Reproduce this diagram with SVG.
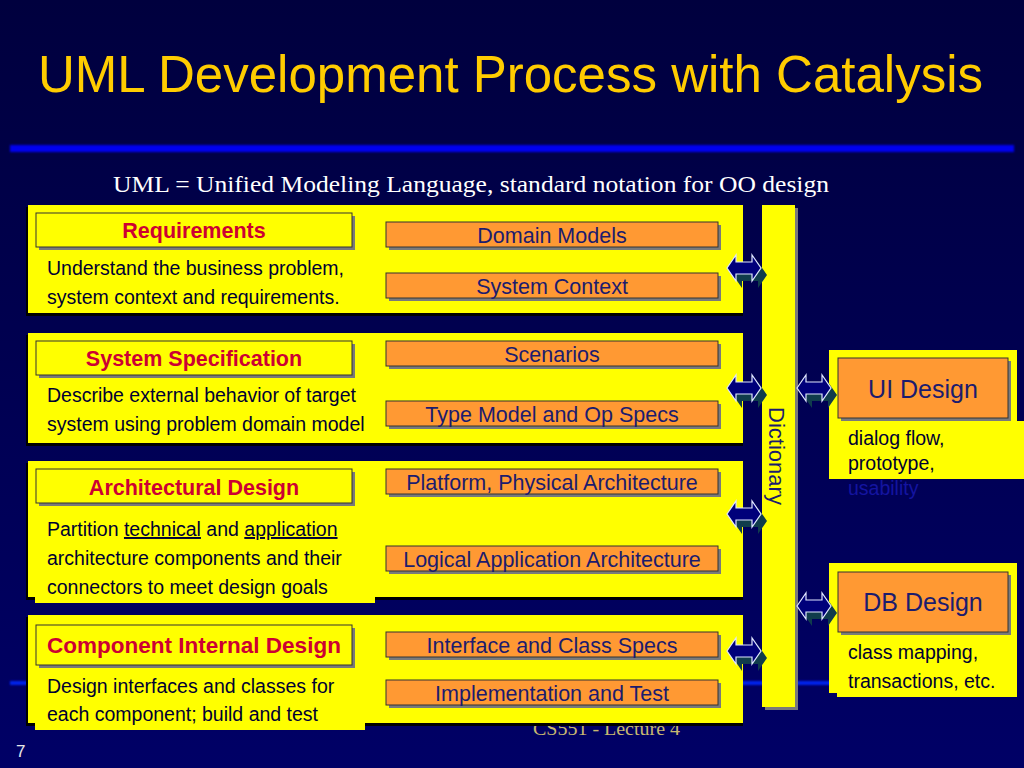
<svg xmlns="http://www.w3.org/2000/svg" xmlns:xlink="http://www.w3.org/1999/xlink" width="1024" height="768" viewBox="0 0 1024 768">
<defs>
<linearGradient id="bg" x1="0" y1="0" x2="0" y2="1">
<stop offset="0" stop-color="#00003e"/>
<stop offset="1" stop-color="#000066"/>
</linearGradient>
<filter id="glow" x="-5%" y="-200%" width="110%" height="500%">
<feGaussianBlur stdDeviation="1.2"/>
</filter>
<g id="dbl">
<path d="M-17,0 L-8,-13 L-8,-6 L8,-6 L8,-13 L17,0 L8,13 L8,6 L-8,6 L-8,13 Z" fill="#103c4c" transform="translate(6,7)"/>
<path d="M-17,0 L-8,-13 L-8,-6 L8,-6 L8,-13 L17,0 L8,13 L8,6 L-8,6 L-8,13 Z" fill="#00007a" stroke="#dfe6ff" stroke-width="1.2" stroke-linejoin="miter"/>
</g>
</defs>
<style>
.stage{fill:#ffff00}
.shad{fill:#000000}
.hbox{fill:#ffff00;stroke:#333333;stroke-width:1}
.obox{fill:#ff9933;stroke:#333333;stroke-width:1}
.gs{fill:#7a7a7a}
.head{font-family:"Liberation Sans",Arial,sans-serif;font-weight:bold;font-size:21.5px;fill:#cc0033;text-anchor:middle}
.desc{font-family:"Liberation Sans",Arial,sans-serif;font-size:19.5px;fill:#000033}
.otxt{font-family:"Liberation Sans",Arial,sans-serif;font-size:21.5px;fill:#1c1c6e;text-anchor:middle}
.big{font-family:"Liberation Sans",Arial,sans-serif;font-size:25px;fill:#1c1c6e;text-anchor:middle}
</style>
<rect x="0" y="0" width="1024" height="768" fill="url(#bg)"/>
<rect x="10" y="145" width="1004" height="7" fill="#0000ee" filter="url(#glow)"/>
<rect x="10" y="681" width="1004" height="4" fill="#0022ee" filter="url(#glow)"/>
<text x="38" y="92" font-family="Liberation Sans,Arial,sans-serif" font-size="52" fill="#ffcc00" textLength="945" lengthAdjust="spacingAndGlyphs">UML Development Process with Catalysis</text>
<text x="113" y="192" font-family="Liberation Serif,Times New Roman,serif" font-size="23" fill="#ffffff" textLength="716" lengthAdjust="spacingAndGlyphs">UML = Unified Modeling Language, standard notation for OO design</text>
<text x="533" y="735" font-family="Liberation Serif,Times New Roman,serif" font-size="19" fill="#c8b870" textLength="147" lengthAdjust="spacingAndGlyphs">CS551 - Lecture 4</text>
<text x="16" y="757" font-family="Liberation Sans,Arial,sans-serif" font-size="17" fill="#e8e8e8">7</text>

<g id="requirements">
<rect class="shad" x="26" y="207" width="717" height="109"/>
<rect class="stage" x="28" y="205" width="715" height="108"/>
<rect class="gs" x="39" y="216" width="316" height="34"/>
<rect class="hbox" x="36" y="213" width="316" height="34"/>
<text class="head" x="194" y="238">Requirements</text>
<text class="desc" x="47" y="275">Understand the business problem,</text>
<text class="desc" x="47" y="304">system context and requirements.</text>
</g>
<g id="domain-models">
<rect class="gs" x="389" y="225" width="332" height="25"/>
<rect class="obox" x="386" y="222" width="332" height="25"/>
<text class="otxt" x="552" y="243">Domain Models</text>
</g>
<g id="system-context">
<rect class="gs" x="389" y="276" width="332" height="25"/>
<rect class="obox" x="386" y="273" width="332" height="25"/>
<text class="otxt" x="552" y="294">System Context</text>
</g>

<g id="system-specification">
<rect class="shad" x="26" y="335" width="717" height="111"/>
<rect class="stage" x="28" y="333" width="715" height="110"/>
<rect class="gs" x="39" y="344" width="316" height="34"/>
<rect class="hbox" x="36" y="341" width="316" height="34"/>
<text class="head" x="194" y="366">System Specification</text>
<text class="desc" x="47" y="402">Describe external behavior of target</text>
<text class="desc" x="47" y="431">system using problem domain model</text>
</g>
<g id="scenarios">
<rect class="gs" x="389" y="344" width="332" height="25"/>
<rect class="obox" x="386" y="341" width="332" height="25"/>
<text class="otxt" x="552" y="362">Scenarios</text>
</g>
<g id="type-model">
<rect class="gs" x="389" y="404" width="332" height="25"/>
<rect class="obox" x="386" y="401" width="332" height="25"/>
<text class="otxt" x="552" y="422">Type Model and Op Specs</text>
</g>

<g id="architectural-design">
<rect class="shad" x="26" y="463" width="717" height="137"/>
<rect class="stage" x="28" y="461" width="715" height="136"/>
<rect class="stage" x="35" y="560" width="340" height="43"/>
<rect class="gs" x="39" y="472" width="316" height="34"/>
<rect class="hbox" x="36" y="469" width="316" height="34"/>
<text class="head" x="194" y="495">Architectural Design</text>
<text class="desc" x="47" y="536">Partition <tspan text-decoration="underline">technical</tspan> and <tspan text-decoration="underline">application</tspan></text>
<text class="desc" x="47" y="565">architecture components and their</text>
<text class="desc" x="47" y="594">connectors to meet design goals</text>
</g>
<g id="platform-architecture">
<rect class="gs" x="389" y="472" width="332" height="25"/>
<rect class="obox" x="386" y="469" width="332" height="25"/>
<text class="otxt" x="552" y="490">Platform, Physical Architecture</text>
</g>
<g id="logical-architecture">
<rect class="gs" x="389" y="549" width="332" height="25"/>
<rect class="obox" x="386" y="546" width="332" height="25"/>
<text class="otxt" x="552" y="567">Logical Application Architecture</text>
</g>

<g id="component-internal-design">
<rect class="shad" x="26" y="617" width="717" height="109"/>
<rect class="stage" x="28" y="615" width="715" height="108"/>
<rect class="stage" x="35" y="700" width="330" height="30"/>
<rect class="gs" x="39" y="628" width="316" height="40"/>
<rect class="hbox" x="36" y="625" width="316" height="40"/>
<text class="head" x="194" y="653" style="font-size:22.5px">Component Internal Design</text>
<text class="desc" x="47" y="693">Design interfaces and classes for</text>
<text class="desc" x="47" y="721">each component; build and test</text>
</g>
<g id="interface-specs">
<rect class="gs" x="389" y="635" width="332" height="25"/>
<rect class="obox" x="386" y="632" width="332" height="25"/>
<text class="otxt" x="552" y="653">Interface and Class Specs</text>
</g>
<g id="implementation-test">
<rect class="gs" x="389" y="683" width="332" height="25"/>
<rect class="obox" x="386" y="680" width="332" height="25"/>
<text class="otxt" x="552" y="701">Implementation and Test</text>
</g>

<g id="dictionary">
<rect class="gs" x="765" y="208" width="33" height="502"/>
<rect class="stage" x="762" y="205" width="33" height="502"/>
<text transform="translate(769,456) rotate(90)" font-family="Liberation Sans,Arial,sans-serif" font-size="22" fill="#1c1c6e" text-anchor="middle">Dictionary</text>
</g>

<g id="ui-design">
<rect class="stage" x="829" y="350" width="188" height="72"/>
<rect class="stage" x="829" y="421" width="195" height="58"/>
<rect class="gs" x="841" y="361" width="170" height="60"/>
<rect class="obox" x="838" y="358" width="170" height="60"/>
<text class="big" x="923" y="398">UI Design</text>
<text class="desc" x="848" y="445">dialog flow,</text>
<text class="desc" x="848" y="470">prototype,</text>
<text class="desc" x="848" y="495" style="fill:#1414a0">usability</text>
</g>

<g id="db-design">
<rect class="stage" x="829" y="563" width="188" height="130"/>
<rect class="stage" x="837" y="680" width="180" height="17"/>
<rect class="gs" x="841" y="575" width="170" height="60"/>
<rect class="obox" x="838" y="572" width="170" height="60"/>
<text class="big" x="923" y="611">DB Design</text>
<text class="desc" x="848" y="659">class mapping,</text>
<text class="desc" x="848" y="688">transactions, etc.</text>
</g>

<g id="connectors">
<use xlink:href="#dbl" x="744" y="268"/>
<use xlink:href="#dbl" x="744" y="388"/>
<use xlink:href="#dbl" x="744" y="514"/>
<use xlink:href="#dbl" x="744" y="651"/>
<use xlink:href="#dbl" x="814" y="388"/>
<use xlink:href="#dbl" x="814" y="606"/>
</g>
</svg>
